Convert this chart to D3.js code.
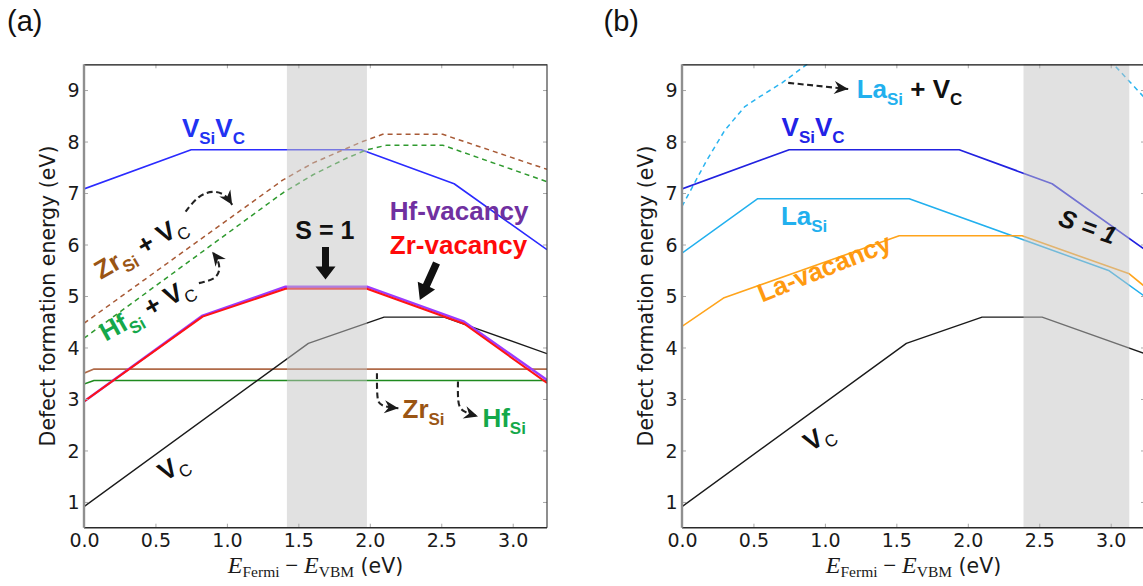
<!DOCTYPE html>
<html><head><meta charset="utf-8">
<script src="https://cdn.jsdelivr.net/npm/d3@7"></script>
<style>body{margin:0;background:#fff;} svg{display:block;} text{white-space:pre;}</style>
</head><body>
<svg id="chart" width="1143" height="586"></svg>
<script>
// ---------------- data ----------------
const xTicks = [0, 0.5, 1, 1.5, 2, 2.5, 3];
const xTickLabels = ["0.0", "0.5", "1.0", "1.5", "2.0", "2.5", "3.0"];
const yTicks = [1, 2, 3, 4, 5, 6, 7, 8, 9];
const yTickLabels = ["1", "2", "3", "4", "5", "6", "7", "8", "9"];
const xDomain = [0, 3.24];
const yDomain = [0.5, 9.5];

// shared series (both panels)
const vsivcX = [0, 0.75, 1.94, 2.59, 3.24];
const vsivcY = [7.08, 7.84, 7.84, 7.18, 5.9];
const vcX = [0, 1.57, 2.1, 2.52, 3.24];
const vcY = [0.91, 4.08, 4.59, 4.59, 3.88];

// panel (a)
const hfVacX = [0, 0.83, 1.41, 1.98, 2.66, 3.24];
const hfVacY = [2.95, 4.62, 5.18, 5.18, 4.5, 3.37];
const zrVacX = [0, 0.83, 1.41, 1.98, 2.66, 3.24];
const zrVacY = [2.95, 4.6, 5.14, 5.14, 4.46, 3.31];
const zrSiX = [0, 0.07, 3.24];
const zrSiY = [3.5, 3.58, 3.58];
const hfSiX = [0, 0.07, 3.24];
const hfSiY = [3.29, 3.36, 3.36];
const zrSiVcX = [0, 1.39, 1.6, 1.84, 1.95, 2.09, 2.51, 3.24];
const zrSiVcY = [4.47, 7.25, 7.58, 7.87, 8.0, 8.14, 8.14, 7.46];
const hfSiVcX = [0, 1.39, 1.6, 1.84, 1.98, 2.12, 2.51, 3.24];
const hfSiVcY = [4.18, 7.0, 7.35, 7.68, 7.84, 7.93, 7.93, 7.22];
const shadeA = [1.42, 1.98];

// panel (b)
const laSiX = [0, 0.53, 1.59, 2.99, 3.24];
const laSiY = [5.83, 6.89, 6.89, 5.49, 4.99];
const laVacX = [0, 0.29, 1.52, 2.38, 3.13, 3.24];
const laVacY = [4.41, 4.96, 6.17, 6.17, 5.43, 5.18];
const laSiVcLeftX = [0, 0.17, 0.3, 0.44, 0.55, 0.7, 0.86, 0.95];
const laSiVcLeftY = [6.74, 7.62, 8.22, 8.68, 8.88, 9.14, 9.47, 9.66];
const laSiVcRightX = [2.95, 3.24];
const laSiVcRightY = [9.71, 8.84];
const shadeB = [2.39, 3.13];

// ---------------- layout ----------------
const svg = d3.select("#chart");
const W = 463, H = 463.4, TOP = 64.3;
const panels = [
  { id: "a", left: 84, label: "(a)", labelX: 7, shade: shadeA },
  { id: "b", left: 682, label: "(b)", labelX: 603.5, shade: shadeB }
];
const SANS = "'Liberation Sans', Arial, Helvetica, sans-serif";
const DJV = "'DejaVu Sans', sans-serif";
const SERIF = "'Liberation Serif', 'DejaVu Serif', serif";

const x = d3.scaleLinear().domain(xDomain).range([0, W]);
const y = d3.scaleLinear().domain(yDomain).range([H, 0]);

const defs = svg.append("defs");
defs.append("marker").attr("id", "ah").attr("viewBox", "-15 -7 16 14")
  .attr("refX", 0).attr("refY", 0).attr("markerWidth", 16).attr("markerHeight", 14)
  .attr("markerUnits", "userSpaceOnUse").attr("orient", "auto")
  .append("path").attr("d", "M0,0 L-14,-6.5 L-9.5,0 L-14,6.5 Z").attr("fill", "#1a1a1a");

function zip(xs, ys) { return xs.map((v, i) => [v, ys[i]]); }
const line = d3.line().x(d => x(d[0])).y(d => y(d[1]));

function rich(g, px, py, parts, o = {}) {
  const size = o.size || 26;
  const t = g.append("text")
    .attr("transform", `translate(${px},${py}) rotate(${o.rotate || 0})`)
    .attr("text-anchor", o.anchor || "start")
    .style("font-family", o.family || SANS)
    .style("font-weight", o.weight || "bold")
    .style("font-style", o.style || "normal")
    .style("font-size", size + "px");
  let shift = 0;
  parts.forEach(p => {
    const ts = t.append("tspan").text(p.t).attr("fill", p.c || "#111");
    const target = p.sub ? size * 0.27 : 0;
    if (target !== shift) { ts.attr("dy", target - shift); shift = target; }
    if (p.sub) ts.style("font-size", Math.round(size * 0.64) + "px");
    if (p.w) ts.style("font-weight", p.w);
  });
  return t;
}

function blockArrow(g, x1, y1, x2, y2, shaft, headW, headL) {
  const dx = x2 - x1, dy = y2 - y1, L = Math.hypot(dx, dy);
  const ux = dx / L, uy = dy / L, nx = -uy, ny = ux;
  const bx = x2 - ux * headL, by = y2 - uy * headL;
  const pts = [
    [x1 + nx * shaft / 2, y1 + ny * shaft / 2],
    [bx + nx * shaft / 2, by + ny * shaft / 2],
    [bx + nx * headW / 2, by + ny * headW / 2],
    [x2, y2],
    [bx - nx * headW / 2, by - ny * headW / 2],
    [bx - nx * shaft / 2, by - ny * shaft / 2],
    [x1 - nx * shaft / 2, y1 - ny * shaft / 2]
  ];
  g.append("path").attr("d", "M" + pts.map(p => p.join(",")).join("L") + "Z").attr("fill", "#111");
}

function dashArrow(g, pts, curve) {
  g.append("path")
    .attr("d", d3.line().x(d => x(d[0])).y(d => y(d[1])).curve(curve || d3.curveBasis)(pts))
    .attr("fill", "none").attr("stroke", "#222").attr("stroke-width", 2.1)
    .attr("stroke-dasharray", "6,3.5").attr("marker-end", "url(#ah)");
}

panels.forEach(p => {
  const g = svg.append("g").attr("transform", `translate(${p.left},${TOP})`);
  defs.append("clipPath").attr("id", "clip" + p.id)
    .append("rect").attr("x", 0).attr("y", 0).attr("width", W).attr("height", H);

  const plot = g.append("g").attr("clip-path", `url(#clip${p.id})`);

  function series(xs, ys, color, width, dash) {
    const path = plot.append("path").attr("d", line(zip(xs, ys)))
      .attr("fill", "none").attr("stroke", color).attr("stroke-width", width)
      .attr("stroke-linejoin", "round");
    if (dash) path.attr("stroke-dasharray", dash);
  }

  if (p.id === "a") {
    series(vsivcX, vsivcY, "#2b2bff", 1.6);
    series(zrSiVcX, zrSiVcY, "#a85a36", 1.5, "5,4");
    series(hfSiVcX, hfSiVcY, "#2f9a2f", 1.5, "5,4");
    series(zrSiX, zrSiY, "#b06a48", 1.6);
    series(hfSiX, hfSiY, "#1f8a1f", 1.6);
    series(vcX, vcY, "#1a1a1a", 1.4);
    series(hfVacX, hfVacY, "#9b3bff", 2.4);
    series(zrVacX, zrVacY, "#ff1414", 2.0);
  } else {
    series(laSiVcLeftX, laSiVcLeftY, "#2ab4f0", 1.5, "5,4");
    series(laSiVcRightX, laSiVcRightY, "#2ab4f0", 1.5, "5,4");
    series(vsivcX, vsivcY, "#2222e0", 1.7);
    series(laSiX, laSiY, "#22b0ee", 1.5);
    series(laVacX, laVacY, "#ffa41c", 1.6);
    series(vcX, vcY, "#1a1a1a", 1.4);
  }

  // shaded region (drawn over lines, semi-transparent)
  g.append("rect").attr("x", x(p.shade[0])).attr("y", 0)
    .attr("width", x(p.shade[1]) - x(p.shade[0])).attr("height", H)
    .attr("fill", "#c4c4c4").attr("opacity", 0.5);

  // axes
  const ax = g.append("g").attr("transform", `translate(0,${H})`)
    .call(d3.axisBottom(x).tickValues(xTicks).tickFormat((d, i) => xTickLabels[i])
      .tickSizeInner(-4).tickSizeOuter(0).tickPadding(6));
  const ay = g.append("g")
    .call(d3.axisLeft(y).tickValues(yTicks).tickFormat((d, i) => yTickLabels[i])
      .tickSizeInner(-4).tickSizeOuter(0).tickPadding(4.5));
  const at = g.append("g")
    .call(d3.axisTop(x).tickValues(xTicks).tickFormat("").tickSizeInner(-4).tickSizeOuter(0));
  const ar = g.append("g").attr("transform", `translate(${W},0)`)
    .call(d3.axisRight(y).tickValues(yTicks).tickFormat("").tickSizeInner(-4).tickSizeOuter(0));
  [ax, ay, at, ar].forEach(a => {
    a.select(".domain").remove();
    a.selectAll(".tick line").attr("stroke", "#a8a8a8").attr("stroke-width", 1);
    a.selectAll(".tick text").attr("fill", "#1a1a1a")
      .style("font-family", DJV).style("font-size", "19px");
  });
  ay.selectAll(".tick text").attr("dy", "0.36em");

  // spines
  g.append("line").attr("x1", 0).attr("x2", W).attr("y1", 0.5).attr("y2", 0.5).attr("stroke", "#111").attr("stroke-width", 1.2);
  g.append("line").attr("x1", W).attr("x2", W).attr("y1", 0).attr("y2", H).attr("stroke", "#444").attr("stroke-width", 1.2);
  g.append("line").attr("x1", 0).attr("x2", W).attr("y1", H).attr("y2", H).attr("stroke", "#2a2a2a").attr("stroke-width", 1.6);
  g.append("line").attr("x1", 0).attr("x2", 0).attr("y1", 0).attr("y2", H).attr("stroke", "#8f8f8f").attr("stroke-width", 2.4);

  // axis titles
  g.append("text").attr("transform", `translate(-29,${H / 2}) rotate(-90)`)
    .attr("text-anchor", "middle").attr("fill", "#1a1a1a")
    .style("font-family", DJV).style("font-size", "20.5px")
    .text("Defect formation energy (eV)");
  const xt = g.append("text").attr("x", W / 2).attr("y", H + 45.5)
    .attr("text-anchor", "middle").attr("fill", "#1a1a1a");
  xt.append("tspan").text("E").style("font-family", SERIF).style("font-style", "italic").style("font-size", "24px");
  xt.append("tspan").text("Fermi").attr("dy", 4).style("font-family", SERIF).style("font-size", "15.5px");
  xt.append("tspan").text(" \u2212 ").attr("dy", -4).style("font-family", SERIF).style("font-size", "23px");
  xt.append("tspan").text("E").style("font-family", SERIF).style("font-style", "italic").style("font-size", "24px");
  xt.append("tspan").text("VBM").attr("dy", 4).style("font-family", SERIF).style("font-size", "15.5px");
  xt.append("tspan").text(" (eV)").attr("dy", -4).style("font-family", DJV).style("font-size", "20.5px");

  // panel label
  svg.append("text").attr("x", p.labelX).attr("y", 30.5).attr("fill", "#111")
    .style("font-family", SANS).style("font-size", "29px").text(p.label);

  // annotations
  const A = g.append("g");
  if (p.id === "a") {
    rich(A, x(0.685), y(8.09), [{ t: "V", c: "#2233f2" }, { t: "Si", c: "#2233f2", sub: true }, { t: "V", c: "#2233f2" }, { t: "C", c: "#2233f2", sub: true }]);
    rich(A, x(1.685), y(6.1), [{ t: "S = 1" }], { anchor: "middle", size: 25 });
    blockArrow(A, x(1.69), y(5.95), x(1.69), y(5.32), 7, 20, 13);
    rich(A, x(2.14), y(6.47), [{ t: "Hf-vacancy", c: "#7030a0" }]);
    rich(A, x(2.14), y(5.81), [{ t: "Zr-vacancy", c: "#ff0a0a" }]);
    blockArrow(A, x(2.467), y(5.64), x(2.35), y(4.92), 7.5, 19, 16);
    rich(A, x(0.117), y(5.31), [{ t: "Zr", c: "#9a5514" }, { t: "Si", c: "#9a5514", sub: true }, { t: " + V" }, { t: "C", sub: true, w: "normal" }], { rotate: -30 });
    rich(A, x(0.152), y(4.11), [{ t: "Hf", c: "#14a84a" }, { t: "Si", c: "#14a84a", sub: true }, { t: " + V" }, { t: "C", sub: true, w: "normal" }], { rotate: -29 });
    rich(A, x(0.566), y(1.39), [{ t: "V" }, { t: "C", sub: true, w: "normal" }], { rotate: -32 });
    rich(A, x(2.229), y(2.63), [{ t: "Zr", c: "#9a5514" }, { t: "Si", c: "#9a5514", sub: true }]);
    rich(A, x(2.788), y(2.45), [{ t: "Hf", c: "#14a84a" }, { t: "Si", c: "#14a84a", sub: true }]);
    dashArrow(A, [[0.711, 6.64], [0.8, 6.95], [0.9, 7.05], [0.99, 6.98], [1.037, 6.77]]);
    dashArrow(A, [[0.804, 5.25], [0.93, 5.33], [0.955, 5.55], [0.93, 5.74], [0.897, 5.86]]);
    dashArrow(A, [[2.05, 3.5], [2.05, 3.0], [2.07, 2.86], [2.2, 2.82]]);
    dashArrow(A, [[2.617, 3.34], [2.615, 2.92], [2.64, 2.76], [2.757, 2.66]]);
  } else {
    rich(A, x(1.222), y(8.84), [{ t: "La", c: "#22b0ee" }, { t: "Si", c: "#22b0ee", sub: true }, { t: " + V" }, { t: "C", sub: true }]);
    dashArrow(A, [[0.743, 9.14], [1.163, 9.02]], d3.curveLinear);
    rich(A, x(0.697), y(8.1), [{ t: "V", c: "#2222e6" }, { t: "Si", c: "#2222e6", sub: true }, { t: "V", c: "#2222e6" }, { t: "C", c: "#2222e6", sub: true }]);
    rich(A, x(0.692), y(6.38), [{ t: "La", c: "#22b0ee" }, { t: "Si", c: "#22b0ee", sub: true }]);
    rich(A, x(0.559), y(4.87), [{ t: "La-vacancy", c: "#ff9a10" }], { rotate: -22 });
    rich(A, x(2.818), y(6.19), [{ t: "S = 1" }], { anchor: "middle", rotate: 20, style: "italic", size: 25 });
    rich(A, x(0.9), y(1.97), [{ t: "V" }, { t: "C", sub: true, w: "normal" }], { rotate: -32 });
  }
});
</script>
</body></html>
